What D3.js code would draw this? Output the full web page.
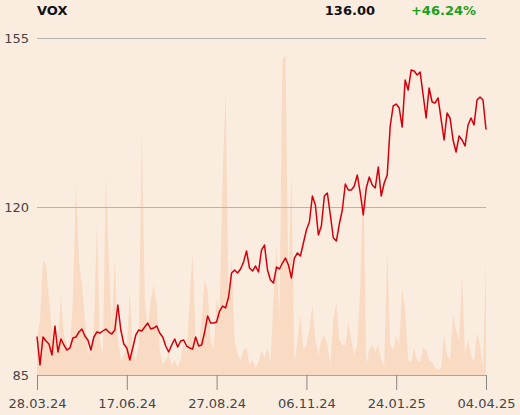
<!DOCTYPE html>
<html>
<head>
<meta charset="utf-8">
<script src="https://cdn.jsdelivr.net/npm/d3@7"></script>
<style>
  html, body { margin: 0; padding: 0; background: #fbece0; }
  svg { display: block; }
  text { font-family: "DejaVu Sans", sans-serif; }
</style>
</head>
<body>
<script>
const title = "VOX";
const lastPrice = "136.00";
const change = "+46.24%";

const prices = [
  93.00, 87.08, 92.89, 92.06, 91.44, 89.15, 95.18, 89.78, 92.48, 91.23,
  90.19, 90.61, 92.68, 92.89, 93.93, 94.55, 93.10, 92.27, 90.19, 92.89,
  93.93, 93.72, 94.14, 94.55, 93.93, 93.51, 94.35, 99.54, 94.35, 91.44,
  90.61, 88.11, 90.61, 93.31, 94.35, 94.14, 94.97, 95.80, 94.55, 94.76,
  95.18, 93.72, 92.89, 91.02, 89.78, 91.23, 92.48, 90.81, 92.06, 92.27,
  91.02, 90.61, 90.40, 92.89, 91.02, 91.23, 93.93, 97.25, 95.80, 95.80,
  96.01, 98.29, 99.33, 98.92, 101.20, 106.19, 106.81, 106.19, 107.02, 108.47,
  110.76, 107.22, 106.60, 107.64, 106.39, 110.96, 112.00, 106.81, 104.73, 104.11,
  107.43, 107.02, 108.26, 109.30, 107.85, 105.15, 109.30, 110.34, 109.72, 112.42,
  115.12, 116.78, 122.18, 120.31, 114.08, 115.95, 122.18, 122.80, 118.23, 113.46,
  112.83, 116.36, 119.27, 124.67, 123.43, 123.43, 124.26, 126.54, 122.80, 118.23,
  123.84, 126.13, 124.47, 123.84, 128.20, 122.18, 124.88, 126.54, 136.72, 140.88,
  141.29, 140.46, 136.51, 146.28, 144.20, 148.35, 148.15, 147.31, 147.94, 143.16,
  138.38, 144.61, 141.71, 141.50, 142.54, 138.17, 133.81, 139.42, 138.38, 133.81,
  131.32, 134.64, 133.81, 132.57, 136.93, 138.38, 136.93, 142.12, 142.74, 142.12,
  136.00
];

const volumes = [
  35, 55, 115, 110, 75, 45, 35, 30, 80, 40,
  30, 25, 75, 190, 115, 90, 55, 25, 20, 45,
  150, 35, 20, 197, 115, 45, 117, 35, 15, 20,
  25, 83, 25, 15, 30, 247, 75, 45, 75, 90,
  70, 25, 10, 15, 20, 10, 15, 7, 15, 35,
  20, 75, 123, 35, 25, 55, 95, 85, 35, 25,
  75, 65, 195, 283, 75, 117, 35, 20, 15, 25,
  27, 10, 15, 7, 13, 25, 17, 27, 13, 75,
  128, 55, 315, 320, 92, 200, 12, 35, 60, 25,
  30, 45, 70, 35, 20, 35, 40, 30, 10, 55,
  72, 35, 30, 30, 53, 35, 20, 30, 87, 207,
  10, 25, 30, 23, 30, 15, 10, 123, 30, 25,
  38, 30, 87, 65, 15, 13, 27, 15, 13, 27,
  25, 15, 13, 7, 5, 7, 40, 20, 15, 60,
  45, 35, 100, 20, 35, 20, 13, 42, 30, 7,
  115
];

const xTickIndex = [0, 30, 60, 90, 120, 150];
const xTickLabels = ["28.03.24", "17.06.24", "27.08.24", "06.11.24", "24.01.25", "04.04.25"];
const yTicks = [85, 120, 155];

const W = 520, H = 415;
const mLeft = 37, mRight = 486, mTop = 38, mBottom = 375;

const svg = d3.select("body").append("svg").attr("width", W).attr("height", H);
svg.append("rect").attr("width", W).attr("height", H).attr("fill", "#fbece0");

const x = d3.scaleLinear().domain([0, prices.length - 1]).range([mLeft, mRight]);
const y = d3.scaleLinear().domain([85, 155]).range([mBottom, mTop]);
const yv = d3.scaleLinear().domain([0, 330]).range([mBottom, mBottom - 330]);

// volume area
const area = d3.area()
  .x((d, i) => x(i))
  .y0(mBottom)
  .y1(d => yv(d));
svg.append("path").datum(volumes).attr("d", area).attr("fill", "#f8d8c0").attr("opacity", 0.9);

// gridlines
svg.append("g").selectAll("line").data(yTicks.filter(t => t !== 85)).enter().append("line")
  .attr("x1", mLeft).attr("x2", mRight)
  .attr("y1", d => Math.round(y(d)) + 0.5).attr("y2", d => Math.round(y(d)) + 0.5)
  .attr("stroke", "#b9b3ad").attr("stroke-width", 1);

// y labels
svg.append("g").selectAll("text").data(yTicks).enter().append("text")
  .attr("x", 29).attr("y", d => y(d) + 5)
  .attr("text-anchor", "end").attr("font-size", 13).attr("fill", "#444")
  .text(d => d);

// x axis
const xAxis = d3.axisBottom(x)
  .tickValues(xTickIndex)
  .tickFormat((d, i) => xTickLabels[i])
  .tickSize(15)
  .tickPadding(9);
const gx = svg.append("g").attr("transform", `translate(0,${mBottom})`).call(xAxis);
gx.select(".domain").attr("stroke", "#a9a4a0").attr("d", `M${mLeft},0.5H${mRight}`);
gx.selectAll(".tick line").attr("stroke", "#8a8682");
gx.selectAll(".tick text").attr("font-size", 13).attr("fill", "#444")
  .attr("font-family", "DejaVu Sans, sans-serif");

// price line
const line = d3.line().x((d, i) => x(i)).y(d => y(d));
svg.append("path").datum(prices).attr("d", line)
  .attr("fill", "none").attr("stroke", "#d2000c").attr("stroke-width", 1.5)
  .attr("stroke-linejoin", "round");

// header
svg.append("text").attr("x", 37).attr("y", 15).attr("font-size", 13).attr("font-weight", "bold")
  .attr("fill", "#111").text(title);
svg.append("text").attr("x", 375).attr("y", 15).attr("text-anchor", "end").attr("font-size", 13)
  .attr("font-weight", "bold").attr("fill", "#111").text(lastPrice);
svg.append("text").attr("x", 476).attr("y", 15).attr("text-anchor", "end").attr("font-size", 13)
  .attr("font-weight", "bold").attr("fill", "#1aa01a").text(change);
</script>
</body>
</html>
